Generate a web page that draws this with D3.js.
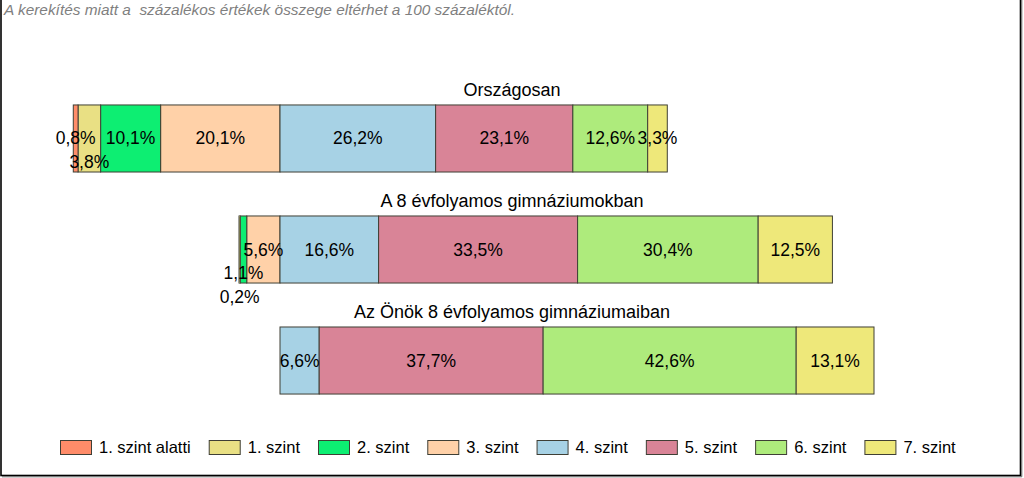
<!DOCTYPE html>
<html><head><meta charset="utf-8">
<script src="https://cdn.jsdelivr.net/npm/d3@7"></script>
<style>
html,body{margin:0;padding:0;background:#fff;}
svg{display:block;font-family:"Liberation Sans",Arial,sans-serif;}
</style></head>
<body><svg id="c" width="1024" height="478"></svg>
<script>
const note = "A kerekítés miatt a  százalékos értékek összege eltérhet a 100 százaléktól.";
const groups = ["Országosan", "A 8 évfolyamos gimnáziumokban", "Az Önök 8 évfolyamos gimnáziumaiban"];
const levels = ["1. szint alatti", "1. szint", "2. szint", "3. szint", "4. szint", "5. szint", "6. szint", "7. szint"];
const colors = ["#FF8C69", "#E9E084", "#0DEE72", "#FFD1A8", "#A7D2E5", "#D98497", "#AEEB7C", "#EEE87A"];
const valuesOrszagos = [0.8, 3.8, 10.1, 20.1, 26.2, 23.1, 12.6, 3.3];
const valuesGimn8 = [0, 0.2, 1.1, 5.6, 16.6, 33.5, 30.4, 12.5];
const valuesOnok = [0, 0, 0, 0, 6.6, 37.7, 42.6, 13.1];
const series = [valuesOrszagos, valuesGimn8, valuesOnok];
const pivot = 4; // levels below "4. szint" are drawn to the left

const svg = d3.select("#c");
const fmt = v => d3.format(".1f")(v).replace(".", ",") + "%";

// frame
svg.append("rect").attr("x",1).attr("y",-2).attr("width",1019.5).attr("height",477.5)
  .attr("fill","none").attr("stroke","#000").attr("stroke-width",1.6);
svg.append("path").attr("d","M1021.8,0V476.8H2").attr("fill","none").attr("stroke","#666").attr("stroke-width",1);

svg.append("text").attr("x",4).attr("y",15).attr("font-size",15.4).attr("font-style","italic")
  .attr("fill","#7f7f7f").style("white-space","pre").text(note);

const x = d3.scaleLinear().domain([-40, 100]).range([42.4, 874]);
const y = d3.scaleBand().domain(groups).range([61, 438]).paddingInner(0.396).paddingOuter(0.396);

groups.forEach((g, gi) => {
  const vals = series[gi];
  const segs = [];
  let acc = 0;
  for (let i = pivot - 1; i >= 0; i--) {
    segs.push({i, v: vals[i], x0: -(acc + vals[i]), x1: -acc});
    acc += vals[i];
  }
  acc = 0;
  for (let i = pivot; i < levels.length; i++) {
    segs.push({i, v: vals[i], x0: acc, x1: acc + vals[i]});
    acc += vals[i];
  }
  const grp = svg.append("g");
  const y0 = y(g), bh = y.bandwidth();
  const drawn = segs.filter(s => s.v > 0);
  grp.selectAll("rect").data(drawn).join("rect")
    .attr("x", s => x(s.x0)).attr("width", s => x(s.x1) - x(s.x0))
    .attr("y", y0).attr("height", bh)
    .attr("fill", s => colors[s.i]).attr("stroke", "#3f3f35").attr("stroke-width", 1);

  svg.append("text").attr("x", 512).attr("y", y0 - 9).attr("text-anchor","middle")
    .attr("font-size", 18).attr("fill","#000").text(g);

  const placed = [];
  const fs = 17.5;
  const right = drawn.filter(s => s.i >= pivot);
  const left = drawn.filter(s => s.i < pivot);
  [...right, ...left].forEach(s => {
    const t = svg.append("text").attr("font-size", fs).attr("text-anchor","middle").attr("fill","#000").text(fmt(s.v));
    const w = t.node().getComputedTextLength();
    const cx = (x(s.x0) + x(s.x1)) / 2;
    const l = cx - w/2, r = cx + w/2;
    let level = 0;
    while (placed.some(p => p.level === level && p.l < r && p.r > l)) level++;
    placed.push({l, r, level});
    t.attr("x", cx).attr("y", y0 + bh/2 + 6 + level * 23.5);
  });
});

// legend
const lg = svg.append("g");
let lx = 60;
levels.forEach((name, i) => {
  lg.append("rect").attr("x", lx + 0.5).attr("y", 440.5).attr("width", 31).attr("height", 14)
    .attr("fill", colors[i]).attr("stroke", "#3f3f35").attr("stroke-width", 1);
  const t = lg.append("text").attr("x", lx + 39).attr("y", 452.5).attr("font-size", 16.5).attr("fill","#000").text(name);
  lx += 39 + t.node().getComputedTextLength() + 18;
});
</script></body></html>
